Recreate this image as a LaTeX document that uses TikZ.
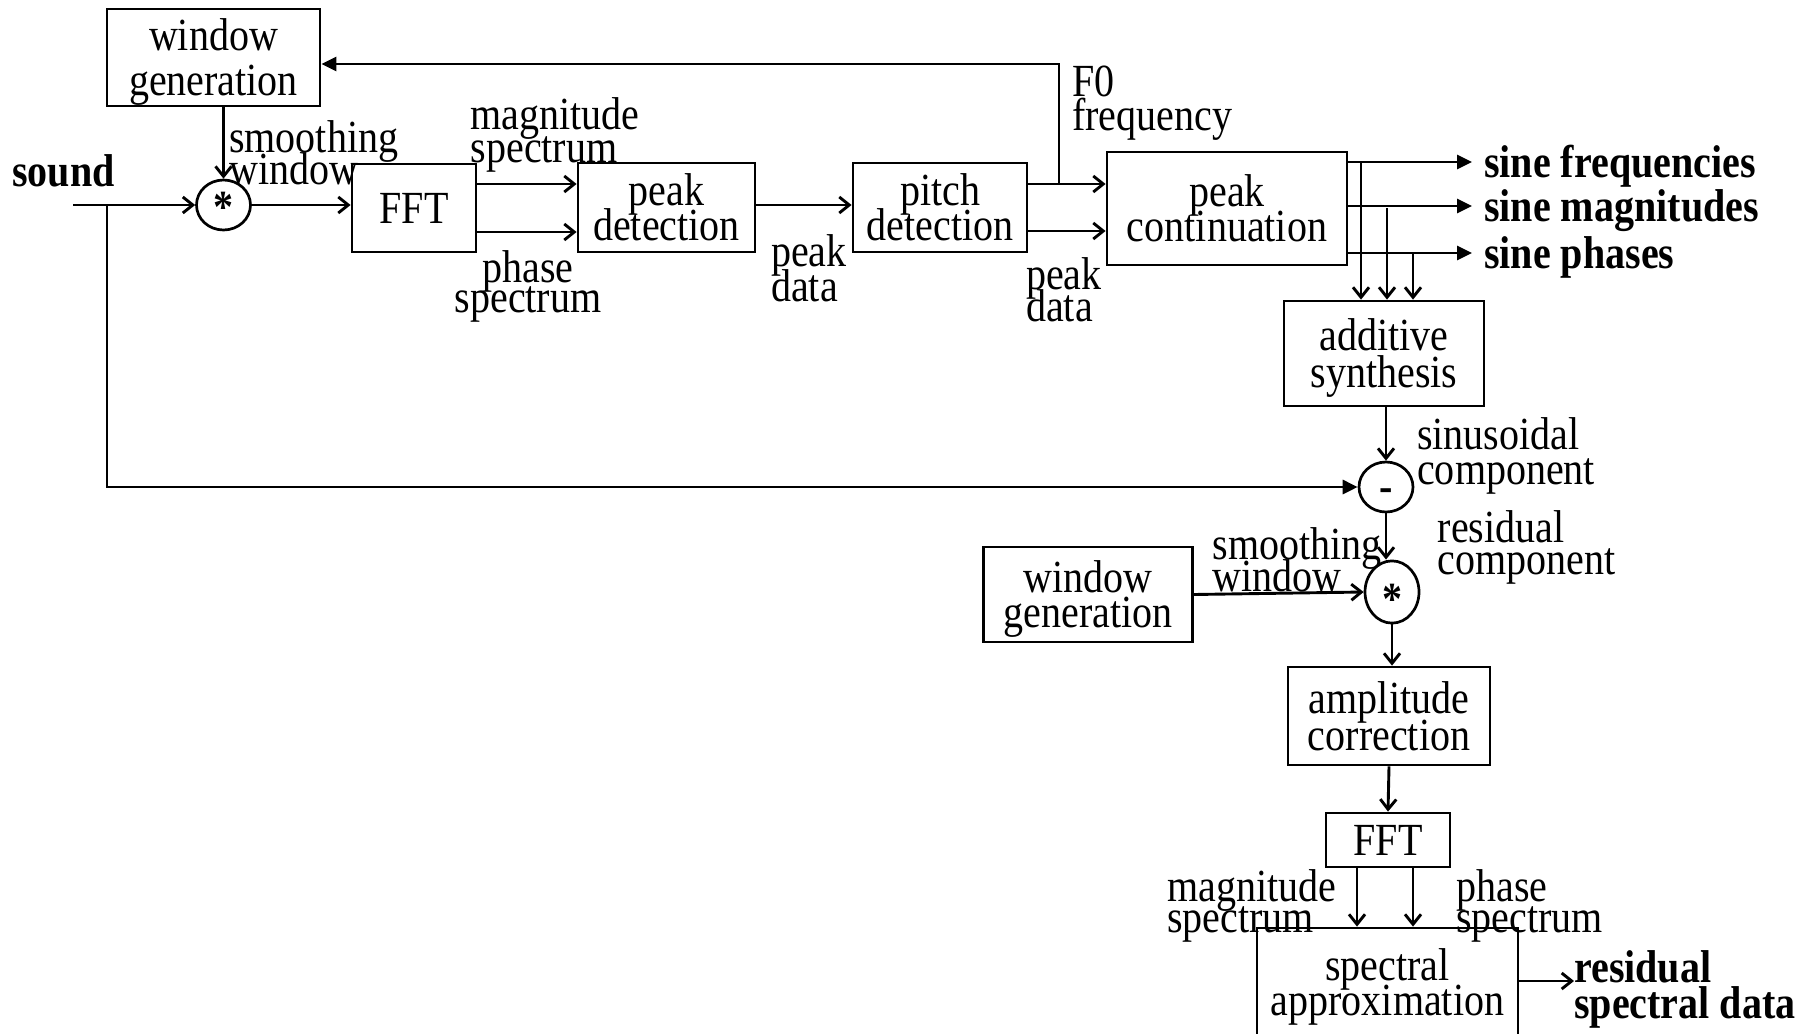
\documentclass[tikz,border=0pt]{standalone}
\usepackage{fontspec}
\setmainfont{Liberation Serif}[FakeStretch=0.87]
\usetikzlibrary{arrows.meta,shapes.geometric}
\lineskiplimit=-100pt
\newcommand\st{\rule[-10pt]{0pt}{51pt}}
\newcommand\fs[1]{\fontsize{46}{#1}\selectfont}
\begin{document}
\begin{tikzpicture}[x=1pt,y=-1pt,
  box/.style={draw,line width=2.8pt,inner sep=0pt,align=center,font=\fs{35}},
  lbl/.style={inner sep=0pt,font=\fs{35}},
  junc/.style={draw,ellipse,line width=2.7pt,minimum width=54pt,minimum height=50pt,inner sep=0pt,font=\fs{35}\bfseries},
  oa/.style={line width=2.9pt,-{Straight Barb[length=10pt,width=16pt]}},
  fa/.style={line width=2.9pt,-{Triangle[length=15pt,width=14pt]}}]
\useasboundingbox (0,0) rectangle (1811,1033);
\fill[white] (0,0) rectangle (1811,1033);
\clip (0,0) rectangle (1811,1033);
% boxes
\node[box,minimum width=213pt,minimum height=97pt,font=\fs{44}] (wg1) at (213.5,57.5) {\st window\\\st generation};
\node[box,minimum width=124pt,minimum height=88pt] (fft1) at (414,208) {\st FFT};
\node[box,minimum width=177pt,minimum height=89pt] (pd) at (666.5,207.5) {\st peak\\\st detection};
\node[box,minimum width=174pt,minimum height=89pt] (pitch) at (940,207.5) {\st pitch\\\st detection};
\node[box,minimum width=240pt,minimum height=113pt] (pc) at (1227,208.5) {\st peak\\\st continuation};
\node[box,minimum width=200pt,minimum height=105pt,font=\fs{37}] (add) at (1384,353.5) {\st additive\\\st synthesis};
\node[box,minimum width=209pt,minimum height=95pt] (wg2) at (1088,594.5) {\st window\\\st generation};
\node[box,minimum width=202pt,minimum height=98pt,font=\fs{37}] (amp) at (1389,716) {\st amplitude\\\st correction};
\node[box,minimum width=124pt,minimum height=54pt] (fft2) at (1388,840) {\st FFT};
\node[box,minimum width=261pt,minimum height=108pt] (spec) at (1387.5,982) {\st spectral\\\st approximation};
% junctions
\node[junc,text height=34pt,text depth=0pt] (c1) at (223.5,205) {*};
\node[junc,text height=28pt,text depth=0pt] (cm) at (1386,487) {-};
\node[junc,text height=44pt,text depth=0pt] (c2) at (1392,592) {*};
% labels
\node[lbl,anchor=west,font=\fs{35}\bfseries] (snd) at (12,171) {\st sound};
\node[lbl,anchor=west,align=left,font=\fs{32}] (sw1) at (229,153) {\st smoothing\\\st window};
\node[lbl,anchor=west,align=left,font=\fs{33}] (ms1) at (470.5,130.5) {\st magnitude\\\st spectrum};
\node[lbl,align=center,font=\fs{30}] (ps1) at (528,281.5) {\st phase\\\st spectrum};
\node[lbl,anchor=west,align=left] (pk1) at (771,268.5) {\st peak\\\st data};
\node[lbl,anchor=west,align=left,font=\fs{34}] (f0) at (1072,97.5) {\st F0\\\st frequency};
\node[lbl,anchor=west,align=left,font=\fs{32}] (pk2) at (1026,290) {\st peak\\\st data};
\node[lbl,anchor=west,font=\fs{35}\bfseries] (sf) at (1484,162) {\st sine frequencies};
\node[lbl,anchor=west,font=\fs{35}\bfseries] (sm) at (1484,206) {\st sine magnitudes};
\node[lbl,anchor=west,font=\fs{35}\bfseries] (sp) at (1484,253) {\st sine phases};
\node[lbl,anchor=west,align=left] (sc) at (1417,451.5) {\st sinusoidal\\\st component};
\node[lbl,anchor=west,align=left,font=\fs{32}] (rc) at (1437.5,543) {\st residual\\\st component};
\node[lbl,anchor=west,align=left,font=\fs{32}] (sw2) at (1212.5,560) {\st smoothing\\\st window};
\node[lbl,anchor=west,align=left,font=\fs{31}] (ms2) at (1167,901) {\st magnitude\\\st spectrum};
\node[lbl,anchor=west,align=left,font=\fs{31}] (ps2) at (1456,901) {\st phase\\\st spectrum};
\node[lbl,anchor=west,align=left,font=\fs{36}\bfseries] (rsd) at (1574,985) {\st residual\\\st spectral data};
% connectors
\coordinate (s0) at (73,205);
\coordinate (br) at (107,205);
\coordinate (fb) at (1059,64);
\draw[oa] (s0) -- (c1.west);
\draw[fa] (br) |- (cm.west);
\draw[oa] (c1 |- wg1.south) -- (c1.north);
\draw[oa] (c1.east) -- (c1 -| fft1.west);
\draw[oa] (fft1.east |- 0,184) -- (pd.west |- 0,184);
\draw[oa] (fft1.east |- 0,232) -- (pd.west |- 0,232);
\draw[oa] (pd.east |- 0,205) -- (pitch.west |- 0,205);
\draw[oa] (pitch.east |- 0,184) -- (pc.west |- 0,184);
\draw[oa] (pitch.east |- 0,231) -- (pc.west |- 0,231);
\draw[fa] (fb |- 0,184) -- (fb) -- (wg1.east |- fb);
\draw[fa] (pc.east |- sf.west) -- ([xshift=-12pt]sf.west);
\draw[fa] (pc.east |- sm.west) -- ([xshift=-12pt]sm.west);
\draw[fa] (pc.east |- sp.west) -- ([xshift=-12pt]sp.west);
\draw[oa] (1361,162) -- (add.north -| 1361,0);
\draw[oa] (1387,208) -- (add.north -| 1387,0);
\draw[oa] (1413,253) -- (add.north -| 1413,0);
\draw[oa] (cm |- add.south) -- (cm.north);
\draw[oa] (cm.south) -- (cm.south |- c2.north);
\draw[oa] (wg2.east) -- (c2.west);
\draw[oa] (c2.south) -- (c2.south |- amp.north);
\draw[oa] (amp.south) -- (fft2.north);
\draw[oa] (fft2.south -| 1357,0) -- (spec.north -| 1357,0);
\draw[oa] (fft2.south -| 1413,0) -- (spec.north -| 1413,0);
\draw[oa] (spec.east |- 0,981) -- (rsd.west |- 0,981);
\end{tikzpicture}
\end{document}
